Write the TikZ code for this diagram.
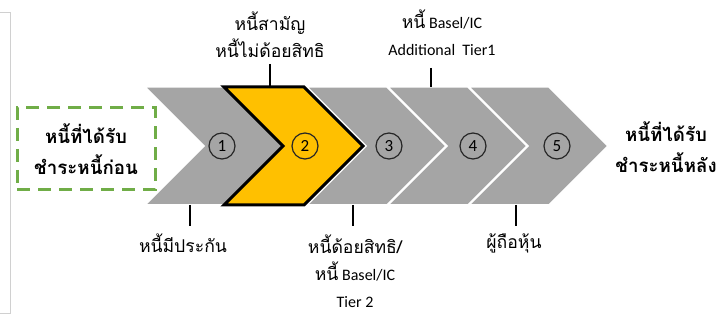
\documentclass[tikz,border=0pt]{standalone}
\usepackage{fontspec}
\setmainfont{Carlito}
\newfontfamily\thai[Script=Thai,Scale=1.1]{Loma}
\definecolor{chgray}{HTML}{A5A5A5}
\definecolor{chyellow}{HTML}{FFC000}
\definecolor{boxgreen}{HTML}{70AD47}
\definecolor{framegray}{HTML}{D0D0D0}
\tikzset{
  chev/.style={fill=chgray, draw=white, line width=1.5pt, line join=miter},
  chevsel/.style={fill=chyellow, draw=black, line width=3pt, line join=miter},
  numcirc/.style={circle, draw=black!85, line width=1.2pt, minimum size=26pt, inner sep=0pt, font=\fontsize{17}{17}\selectfont},
  lab/.style={align=center, font=\fontsize{16}{27}\selectfont, inner sep=0pt},
  bold/.style={align=center, font=\fontsize{17}{31}\selectfont\bfseries, inner sep=0pt},
  tick/.style={line width=1.2pt, black}
}
\newcommand{\chevpath}[1]{(#1,87) -- (#1+80,87) -- (#1+139,146) -- (#1+80,205) -- (#1,205) -- (#1+59,146) -- cycle}
\begin{document}
\begin{tikzpicture}[x=1pt,y=-1pt]
\useasboundingbox (0,0) rectangle (728,320);
% partial frame at left
\draw[framegray, line width=1pt] (0,13) -- (10,13) -- (10,313) -- (0,313);
% chevrons
\draw[chev] \chevpath{145};
\draw[chev] \chevpath{307};
\draw[chev] \chevpath{388};
\draw[chev] \chevpath{469};
\draw[chevsel] \chevpath{224};
% numbers
\node[numcirc] (n1) at (222,146) {1};
\node[numcirc] (n2) at (305,146) {2};
\node[numcirc] (n3) at (389,146) {3};
\node[numcirc] (n4) at (473,146) {4};
\node[numcirc] (n5) at (557,146) {5};
% dashed green box
\node[draw=boxgreen, line width=3pt, dash pattern=on 13pt off 8pt, minimum width=138pt, minimum height=82pt, inner sep=0pt] (first) at (86,149) {};
\node[bold] (firsttxt) at (86,149) {\thai หนี้ที่ได้รับ\\\thai ชำระหนี้ก่อน};
% right text
\node[bold] (last) at (666,147) {\thai หนี้ที่ได้รับ\\\thai ชำระหนี้หลัง};
% top labels
\node[lab] (t2) at (270,35) {\thai หนี้สามัญ\\\thai หนี้ไม่ด้อยสิทธิ};
\coordinate (t2a) at (270,64);
\coordinate (t2b) at (270,87);
\draw[tick] (t2a) -- (t2b);
\node[lab] (t4) at (442,33) {{\thai หนี้} Basel/IC\\Additional\ \ Tier1};
\coordinate (t4a) at (431,68);
\coordinate (t4b) at (431,87);
\draw[tick] (t4a) -- (t4b);
% bottom labels
\coordinate (b1a) at (190,205);
\coordinate (b1b) at (190,226);
\draw[tick] (b1a) -- (b1b);
\node[lab] (b1) at (183,243) {\thai หนี้มีประกัน};
\coordinate (b3a) at (353,205);
\coordinate (b3b) at (353,226);
\draw[tick] (b3a) -- (b3b);
\node[lab] (b3) at (355,271) {{\thai หนี้ด้อยสิทธิ/}\\{\thai หนี้} Basel/IC\\Tier 2};
\coordinate (b5a) at (516,205);
\coordinate (b5b) at (516,226);
\draw[tick] (b5a) -- (b5b);
\node[lab] (b5) at (514,243) {\thai ผู้ถือหุ้น};
\end{tikzpicture}
\end{document}
